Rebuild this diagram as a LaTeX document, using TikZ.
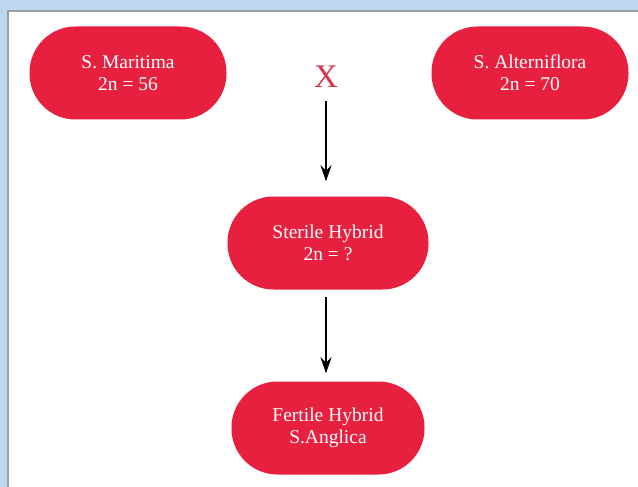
\documentclass[tikz,border=0pt]{standalone}
\usepackage{fontspec}
\setmainfont{Liberation Serif}
\usetikzlibrary{arrows.meta}
\definecolor{pillred}{HTML}{E8203F}
\definecolor{crossred}{HTML}{D8344C}
\definecolor{frameblue}{HTML}{BDD7EE}
\begin{document}
\begin{tikzpicture}[x=1pt, y=-1pt, every node/.style={font=\fontsize{19.5}{22}\selectfont},
  pill/.style={fill=pillred,text=white,rounded corners=46pt,minimum width=197pt,minimum height=93pt,align=center,inner sep=0pt},
  flow/.style={-{Stealth[length=16pt,width=11pt]},line width=2pt}]
\useasboundingbox (0,0) rectangle (638,487);
\fill[frameblue] (0,0) rectangle (638,487);
\fill[white] (8,11) rectangle (638,487);
\draw[gray!75,line width=2pt] (8,487) -- (8,11) -- (638,11);
\node[pill] (maritima) at (128,73) {S. Maritima\\2n = 56};
\node[pill] (alterni) at (530,73) {S. Alterniflora\\2n = 70};
\node[text=crossred,font=\fontsize{33}{34}\selectfont] (cross) at (326,77) {X};
\node[pill,minimum width=201pt] (sterile) at (328,243) {Sterile Hybrid\\2n = ?};
\node[pill,minimum width=193pt] (fertile) at (328,428) {Fertile Hybrid\\S.Anglica};
\draw[flow,shorten <=10pt,shorten >=15pt] (cross.south -| 326,0) -- (sterile.north -| 326,0);
\draw[flow,shorten <=7pt,shorten >=8pt] (sterile.south -| 326,0) -- (fertile.north -| 326,0);
\end{tikzpicture}
\end{document}
